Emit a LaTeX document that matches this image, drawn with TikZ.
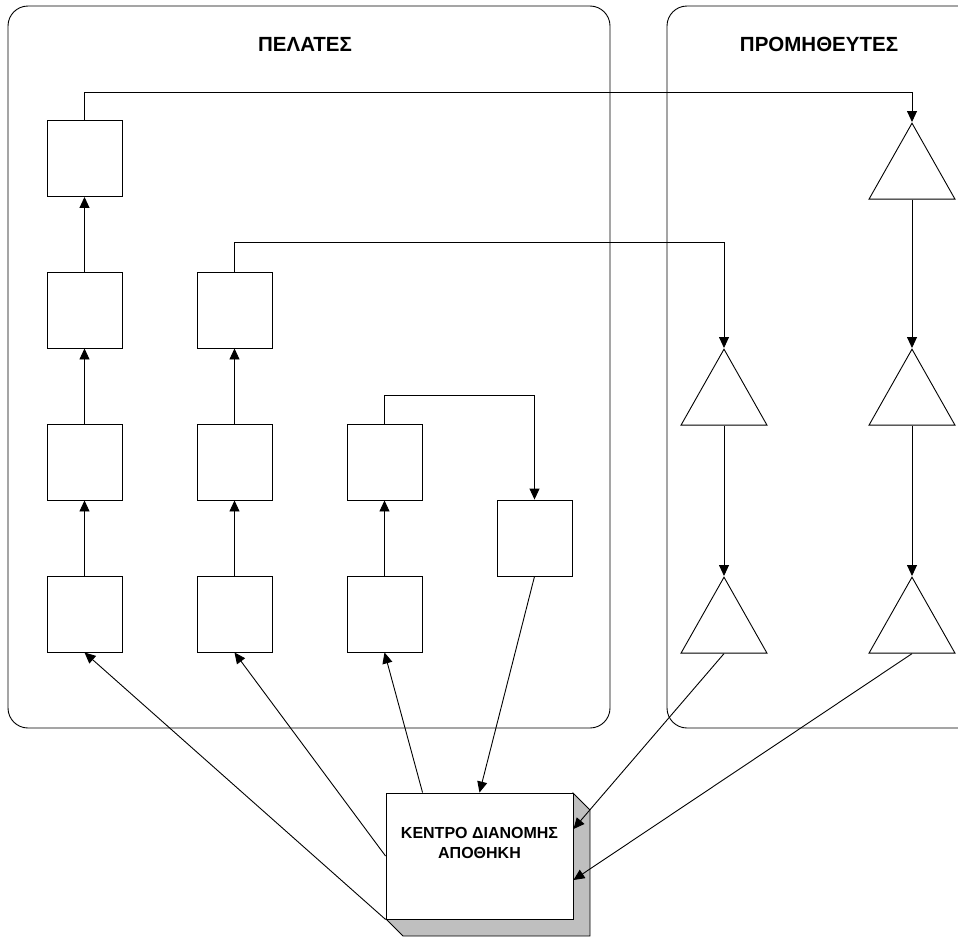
\documentclass[tikz,border=0pt]{standalone}
\usepackage{fontspec}
\setmainfont{Liberation Sans}
\usetikzlibrary{shapes.geometric,arrows.meta,calc}
\begin{document}
\begin{tikzpicture}[x=1pt,y=-1pt,line width=0.9pt,
  sq/.style={draw,minimum width=75pt,minimum height=76pt,inner sep=0pt},
  tri/.style={draw,isosceles triangle,shape border rotate=90,isosceles triangle stretches,minimum width=86pt,minimum height=76pt,inner sep=0pt,anchor=apex},
  arr/.style={-{Triangle[length=11pt,width=10pt]}},
  grp/.style={draw,rounded corners=20pt},
  ttl/.style={font=\fontsize{20.5}{24}\selectfont\bfseries}]
\clip (0,0) rectangle (958,937);
% groups
\draw[grp] (8,6) rectangle (610,728);
\draw[grp] (667,6) rectangle (990,728);
\node[ttl] (tcl) at (305,44) {ΠΕΛΑΤΕΣ};
\node[ttl] (tsp) at (819,44) {ΠΡΟΜΗΘΕΥΤΕΣ};
% squares
\node[sq] (a1) at (84.5,158.5) {};
\node[sq] (a2) at (84.5,310) {};
\node[sq] (a3) at (84.5,462) {};
\node[sq] (a4) at (84.5,614) {};
\node[sq] (b2) at (234.5,310) {};
\node[sq] (b3) at (234.5,462) {};
\node[sq] (b4) at (234.5,614) {};
\node[sq] (c3) at (384.5,462) {};
\node[sq] (c4) at (384.5,614) {};
\node[sq] (d) at (534.5,538) {};
% triangles
\node[tri] (p1) at (912,122) {};
\node[tri] (p2) at (912,348) {};
\node[tri] (p3) at (912,576) {};
\node[tri] (q2) at (724,348) {};
\node[tri] (q3) at (724,576) {};
% distribution centre
\fill[black!25, draw=black] (573,793) -- (590,810) -- (590,936) -- (403,936) -- (386,919) -- (573,919) -- cycle;
\node[draw,fill=white,minimum width=187pt,minimum height=126pt,inner sep=0pt] (dc) at (479.5,856) {};
\node[align=center,font=\fontsize{16}{20}\selectfont\bfseries] (dct) at (479.5,843) {ΚΕΝΤΡΟ ΔΙΑΝΟΜΗΣ\\ΑΠΟΘΗΚΗ};
% vertical chains
\draw[arr] (a4.north) -- (a3.south);
\draw[arr] (a3.north) -- (a2.south);
\draw[arr] (a2.north) -- (a1.south);
\draw[arr] (b4.north) -- (b3.south);
\draw[arr] (b3.north) -- (b2.south);
\draw[arr] (c4.north) -- (c3.south);
% cross links
\draw[arr] (a1.north) -- ++(0,-28) -| (p1.apex);
\draw[arr] (b2.north) -- ++(0,-29) -| (q2.apex);
\draw[arr] (c3.north) -- ++(0,-28) -| (d.north);
\draw[arr] (p1.lower side) -- (p2.apex);
\draw[arr] (p2.lower side) -- (p3.apex);
\draw[arr] (q2.lower side) -- (q3.apex);
% to/from distribution centre
\draw[arr] (dc.south west) -- (a4.south);
\draw[arr] (dc.west) -- (b4.south);
\draw[arr] ($(dc.north west)+(37,0)$) -- (c4.south);
\draw[arr] (d.south) -- (dc.north);
\draw[arr] (q3.lower side) -- ($(dc.east)+(0,-27)$);
\draw[arr] (p3.lower side) -- ($(dc.east)+(0,24)$);
\end{tikzpicture}
\end{document}
